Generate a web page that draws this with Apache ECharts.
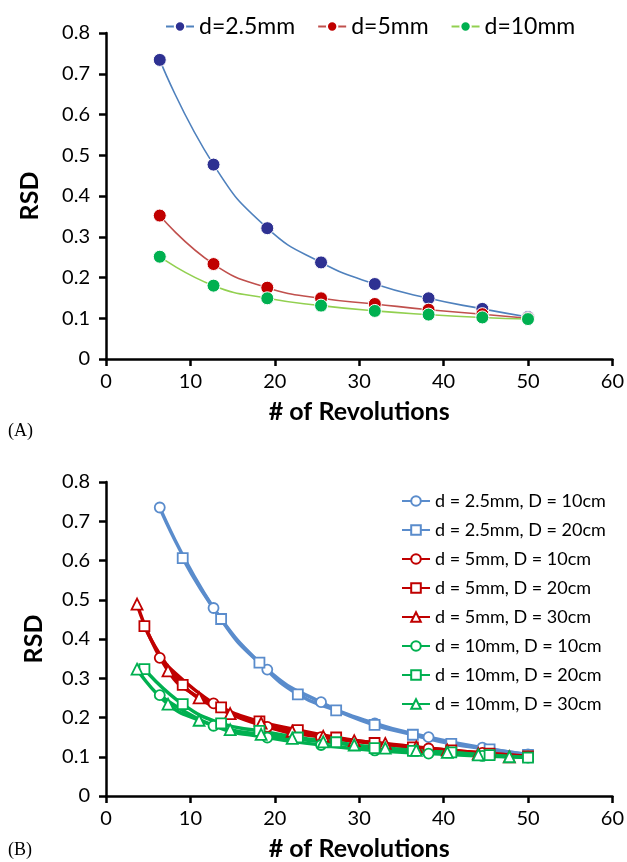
<!DOCTYPE html>
<html>
<head>
<meta charset="utf-8">
<script src="https://cdn.jsdelivr.net/npm/echarts@6/dist/echarts.min.js"></script>
<style>
html,body{margin:0;padding:0;background:#fff;}
#c{width:627px;height:862px;}
</style>
</head>
<body>
<div id="c"></div>
<script>
// ---- Panel A data ----
const revA = [6.37, 12.74, 19.11, 25.48, 31.85, 38.22, 44.59, 50];
const rsdA_d25 = [0.734, 0.477, 0.321, 0.237, 0.184, 0.149, 0.123, 0.103];
const rsdA_d5  = [0.352, 0.233, 0.175, 0.149, 0.135, 0.121, 0.110, 0.100];
const rsdA_d10 = [0.251, 0.180, 0.149, 0.131, 0.118, 0.109, 0.102, 0.098];
const legendA = ['d=2.5mm', 'd=5mm', 'd=10mm'];

// ---- Panel B data ----
const revB_D10 = [6.37, 12.74, 19.11, 25.48, 31.85, 38.22, 44.59, 50];
const revB_D20 = [4.55, 9.09, 13.64, 18.18, 22.73, 27.27, 31.82, 36.36, 40.91, 45.45, 50];
const revB_D30 = [3.68, 7.35, 11.03, 14.71, 18.38, 22.06, 25.74, 29.41, 33.09, 36.76, 40.44, 44.12, 47.79];
const rsdB_d25_D10 = [0.735, 0.479, 0.322, 0.239, 0.185, 0.150, 0.123, 0.106];
const rsdB_d25_D20 = [null, 0.606, 0.451, 0.340, 0.259, 0.218, 0.181, 0.156, 0.133, 0.119, 0.105];
const rsdB_d5_D10  = [0.352, 0.236, 0.176, 0.150, 0.134, 0.121, 0.110, 0.100];
const rsdB_d5_D20  = [0.433, 0.283, 0.226, 0.190, 0.168, 0.149, 0.135, 0.124, 0.116, 0.108, 0.101];
const rsdB_d5_D30  = [0.489, 0.319, 0.250, 0.210, 0.186, 0.165, 0.152, 0.141, 0.134, 0.125, 0.117, 0.108, 0.100];
const rsdB_d10_D10 = [0.257, 0.179, 0.149, 0.130, 0.116, 0.108, 0.102, 0.098];
const rsdB_d10_D20 = [0.323, 0.234, 0.185, 0.166, 0.149, 0.137, 0.122, 0.115, 0.111, 0.104, 0.098];
const rsdB_d10_D30 = [0.323, 0.234, 0.193, 0.169, 0.157, 0.147, 0.138, 0.130, 0.122, 0.116, 0.111, 0.105, 0.100];
const legendB = ['d = 2.5mm, D = 10cm', 'd = 2.5mm, D = 20cm', 'd = 5mm, D = 10cm', 'd = 5mm, D = 20cm',
                 'd = 5mm, D = 30cm', 'd = 10mm, D = 10cm', 'd = 10mm, D = 20cm', 'd = 10mm, D = 30cm'];

const xTicks = [0, 10, 20, 30, 40, 50, 60];
const yTicks = [0, 0.1, 0.2, 0.3, 0.4, 0.5, 0.6, 0.7, 0.8];

function zip(xs, ys) {
  const out = [];
  for (let i = 0; i < xs.length; i++) if (ys[i] != null) out.push([xs[i], ys[i]]);
  return out;
}

const FONT = 'Lato';
function xAxisCfg(gridIndex) {
  return {
    gridIndex, type: 'value', min: xTicks[0], max: xTicks[xTicks.length - 1], interval: 10,
    axisLine: {show: true, onZero: false, lineStyle: {color: '#000', width: 2.5}},
    axisTick: {show: true, inside: false, length: 7, lineStyle: {color: '#000', width: 2.5}},
    splitLine: {show: false},
    axisLabel: {color: '#000', fontFamily: FONT, fontSize: 20, margin: 13},
    name: '# of Revolutions', nameLocation: 'middle', nameGap: 40,
    nameTextStyle: {color: '#000', fontFamily: FONT, fontSize: 25, fontWeight: 'bold'}
  };
}
function yAxisCfg(gridIndex, gap) {
  return {
    gridIndex, type: 'value', min: yTicks[0], max: yTicks[yTicks.length - 1], interval: 0.1,
    axisLine: {show: true, onZero: false, lineStyle: {color: '#000', width: 2.5}},
    axisTick: {show: true, inside: false, length: 7, lineStyle: {color: '#000', width: 2.5}},
    splitLine: {show: false},
    axisLabel: {color: '#000', fontFamily: FONT, fontSize: 20, margin: 16,
      formatter: v => (Math.abs(v) < 1e-9 ? '0' : v.toFixed(1))},
    name: 'RSD', nameLocation: 'middle', nameGap: gap, nameRotate: 90,
    nameTextStyle: {color: '#000', fontFamily: FONT, fontSize: 25, fontWeight: 'bold'}
  };
}

function seriesA(name, data, lineColor, markColor) {
  return {
    name, type: 'line', xAxisIndex: 0, yAxisIndex: 0, data: zip(revA, data),
    smooth: 0.5, symbol: 'circle', symbolSize: 13,
    lineStyle: {color: lineColor, width: 1.6},
    itemStyle: {color: markColor, borderColor: '#fff', borderWidth: 1},
    emphasis: {disabled: true}
  };
}
function seriesB(name, xs, data, color, symbol, size) {
  return {
    name, type: 'line', xAxisIndex: 1, yAxisIndex: 1, data: zip(xs, data),
    smooth: 0.5, symbol, symbolSize: size,
    lineStyle: {color: color, width: 3.5},
    itemStyle: {color: '#fff', borderColor: color, borderWidth: 1.8},
    emphasis: {disabled: true}
  };
}

const BLUE = '#5a8ccc', RED = '#c00000', GREEN = '#00b050';

const chart = echarts.init(document.getElementById('c'), null, {renderer: 'canvas'});
chart.setOption({
  backgroundColor: '#fff',
  animation: false,
  textStyle: {fontFamily: FONT},
  grid: [
    {left: 106, top: 33, width: 508, height: 326},
    {left: 106, top: 482, width: 508, height: 315}
  ],
  xAxis: [xAxisCfg(0), xAxisCfg(1)],
  yAxis: [yAxisCfg(0, 64), yAxisCfg(1, 60)],
  legend: [
    {
      data: legendA, left: 160, top: 10, itemWidth: 28, itemHeight: 13, itemGap: 22,
      textStyle: {color: '#000', fontFamily: FONT, fontSize: 23}, selectedMode: false
    },
    {
      data: legendB, orient: 'vertical', left: 396, top: 486, itemWidth: 28, itemHeight: 12, itemGap: 9,
      textStyle: {color: '#000', fontFamily: FONT, fontSize: 18, lineHeight: 20}, selectedMode: false
    }
  ],
  graphic: [
    {type: 'text', left: 8, top: 422, style: {text: '(A)', fontFamily: 'Liberation Serif', fontSize: 18, fill: '#000'}},
    {type: 'text', left: 8, top: 841, style: {text: '(B)', fontFamily: 'Liberation Serif', fontSize: 18, fill: '#000'}}
  ],
  series: [
    seriesA(legendA[0], rsdA_d25, '#4f81bd', '#2e3192'),
    seriesA(legendA[1], rsdA_d5, '#c0504d', '#c00000'),
    seriesA(legendA[2], rsdA_d10, '#92d050', '#00b050'),
    seriesB(legendB[0], revB_D10, rsdB_d25_D10, BLUE, 'circle', 10),
    seriesB(legendB[1], revB_D20, rsdB_d25_D20, BLUE, 'rect', 10),
    seriesB(legendB[2], revB_D10, rsdB_d5_D10, RED, 'circle', 10),
    seriesB(legendB[3], revB_D20, rsdB_d5_D20, RED, 'rect', 10),
    seriesB(legendB[4], revB_D30, rsdB_d5_D30, RED, 'triangle', 11),
    seriesB(legendB[5], revB_D10, rsdB_d10_D10, GREEN, 'circle', 10),
    seriesB(legendB[6], revB_D20, rsdB_d10_D20, GREEN, 'rect', 10),
    seriesB(legendB[7], revB_D30, rsdB_d10_D30, GREEN, 'triangle', 11)
  ]
});
</script>
</body>
</html>
